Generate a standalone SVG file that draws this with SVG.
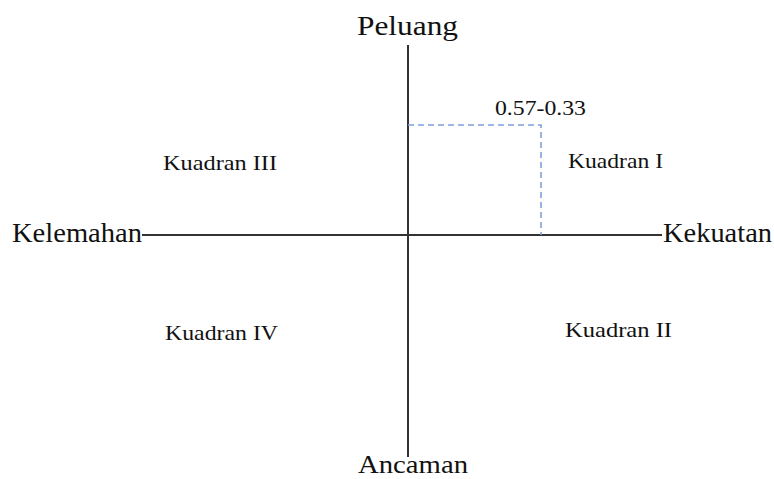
<svg xmlns="http://www.w3.org/2000/svg" width="774" height="479" viewBox="0 0 774 479">
<style>
.t{font-family:"Liberation Serif","Times New Roman",Times,serif;fill:#111;}
.big{font-size:27px;}
.q{font-size:21px;}
.axis{stroke:#333;stroke-width:2;fill:none;}
.dash{stroke:#7f9fe0;stroke-width:1.6;stroke-dasharray:6,4;fill:none;}
</style>
<rect width="774" height="479" fill="#fff"/>
<g id="connectors">
<line class="axis" x1="408" y1="45" x2="408" y2="457"/>
<line class="axis" x1="142" y1="235" x2="662" y2="235"/>
<polyline class="dash" points="408,125 541,125 541,235"/>
</g>
<g id="peluang"><text class="t big" x="357" y="35" textLength="101" lengthAdjust="spacingAndGlyphs">Peluang</text></g>
<g id="ancaman"><text class="t" style="font-size:25px" x="358" y="473" textLength="110" lengthAdjust="spacingAndGlyphs">Ancaman</text></g>
<g id="kelemahan"><text class="t big" x="12" y="242" textLength="130" lengthAdjust="spacingAndGlyphs">Kelemahan</text></g>
<g id="kekuatan"><text class="t big" x="663" y="242" textLength="109" lengthAdjust="spacingAndGlyphs">Kekuatan</text></g>
<g id="value"><text class="t q" x="495" y="115" textLength="91" lengthAdjust="spacingAndGlyphs">0.57-0.33</text></g>
<g id="kuadran1"><text class="t q" x="568" y="168" textLength="95" lengthAdjust="spacingAndGlyphs">Kuadran I</text></g>
<g id="kuadran2"><text class="t q" x="565" y="337" textLength="107" lengthAdjust="spacingAndGlyphs">Kuadran II</text></g>
<g id="kuadran3"><text class="t q" x="163" y="170" textLength="114" lengthAdjust="spacingAndGlyphs">Kuadran III</text></g>
<g id="kuadran4"><text class="t q" x="165" y="340" textLength="113" lengthAdjust="spacingAndGlyphs">Kuadran IV</text></g>
</svg>
